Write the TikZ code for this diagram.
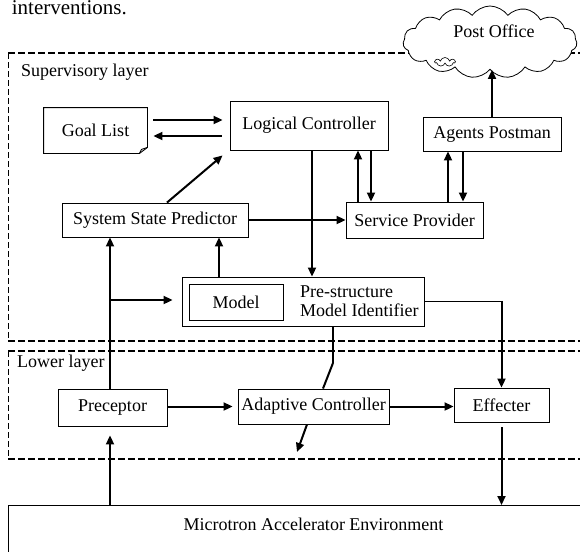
\documentclass[tikz,border=0pt]{standalone}
\usepackage{fontspec}
\setmainfont{Liberation Serif}
\usetikzlibrary{arrows.meta,shapes.symbols}
\begin{document}
\begin{tikzpicture}[x=1pt,y=-1pt,
  box/.style={draw, line width=0.9pt, inner sep=0pt, font=\fontsize{18}{21}\selectfont},
  lbl/.style={inner sep=0pt, font=\fontsize{18}{19}\selectfont},
  arr/.style={line width=2pt, -{Triangle[length=9pt,width=8pt]}},
  wire/.style={line width=2pt},
  thinwire/.style={line width=1.3pt},
  hdash/.style={line width=1.8pt, dash pattern=on 7pt off 3pt},
  vdash/.style={line width=0.9pt, dash pattern=on 6pt off 3pt}
]
\useasboundingbox (0,0) rectangle (580,551);
\clip (0,0) rectangle (580,551);

% end of the preceding text line
\node[anchor=base east, inner sep=0pt, font=\fontsize{21}{24}\selectfont] (intro) at (127,15) {interventions.};

% layer frames
\draw[hdash] (8,53) -- (590,53);
\draw[vdash] (8,53) -- (8,341);
\draw[hdash] (8,341) -- (590,341);
\draw[hdash] (8,351) -- (590,351);
\draw[vdash] (8,351) -- (8,459);
\draw[hdash] (8,459) -- (590,459);
\node[lbl, anchor=west] (suplbl) at (21,72) {Supervisory layer};
\node[lbl, anchor=west] (lowlbl) at (17,363) {Lower layer};

% post office cloud
\node[cloud, draw, fill=white, line width=0.8pt, cloud puffs=15, cloud puff arc=110,
      aspect=2.4, minimum width=174pt, minimum height=72pt, inner sep=0pt] (po) at (490,42) {};
\node[cloud, draw, line width=0.6pt, cloud puffs=7, aspect=2,
      minimum width=20pt, minimum height=9pt, inner sep=0pt] (doodle) at (445,62) {};
\node[lbl] (potext) at (494,31) {Post Office};

% supervisory blocks
\node[box, draw=none, minimum width=103pt, minimum height=45pt] (goal) at (95.5,130.5) {Goal List\hspace{10pt}};
\draw[line width=0.9pt] (goal.north west) -- (goal.north east) -- ([yshift=6pt]goal.south east)
  -- ([xshift=-8pt]goal.south east) -- (goal.south west) -- cycle;
\draw[line width=0.9pt] ([xshift=-8pt]goal.south east) -- ([xshift=-6pt,yshift=4pt]goal.south east)
  -- ([yshift=6pt]goal.south east);
\node[box, minimum width=158pt, minimum height=49pt] (lc) at (309,125.5) {Logical Controller};
\node[box, minimum width=138pt, minimum height=34pt] (ap) at (492,134) {Agents Postman};
\node[box, minimum width=186pt, minimum height=34pt] (ssp) at (155,220) {System State Predictor};
\node[box, minimum width=137pt, minimum height=36pt] (sp) at (414.5,220) {Service Provider};
\node[box, minimum width=242pt, minimum height=49pt] (pmi) at (303,301.5) {};
\node[box, minimum width=94pt, minimum height=36pt] (model) at (236,302) {Model};
\node[lbl, anchor=west, align=left] (pmitext) at (300,301) {Pre-structure\\Model Identifier};

% lower blocks
\node[box, minimum width=109pt, minimum height=37pt] (prec) at (112.5,407.5) {Preceptor};
\node[box, minimum width=151pt, minimum height=35pt] (ac) at (313.5,406.5) {Adaptive Controller};
\node[box, minimum width=95pt, minimum height=34pt] (eff) at (501.5,405) {Effecter};

% environment
\node[box, anchor=north west, minimum width=611pt, minimum height=60pt] (env) at (8,505) {};
\node[lbl] (envtext) at (313.5,524) {Microtron Accelerator Environment};

% connectors
\draw[arr, shorten <=6pt, shorten >=7pt] (goal.east |- 0,120) -- (lc.west |- 0,120);
\draw[arr, shorten <=8pt, shorten >=6pt] (lc.west |- 0,136) -- (goal.east |- 0,136);
\draw[arr] ([xshift=12pt]ssp.north) -- ([xshift=-7pt,yshift=-5pt]lc.south west);
\draw[arr] (ssp.east) -- (sp.west);
\draw[arr] (lc.south -| 312,0) -- (pmi.north -| 312,0);
\draw[arr] (sp.north -| 358,0) -- (lc.south -| 358,0);
\draw[arr] (lc.south -| 371,0) -- (sp.north -| 371,0);
\draw[arr] (sp.north -| 448,0) -- (ap.south -| 448,0);
\draw[arr] (ap.south -| 463,0) -- (sp.north -| 463,0);
\draw[arr] (ap.north) -- (ap.north |- po.south);
\draw[arr] (pmi.north -| 219,0) -- (ssp.south -| 219,0);
\draw[arr] (prec.north -| 110,0) -- (ssp.south -| 110,0);
\coordinate (br) at (110,300);
\draw[arr, shorten >=9pt] (br) -- (pmi.west |- br);
\coordinate (corner) at (eff.north |- pmi.east);
\draw[thinwire] (pmi.east) -- (corner);
\draw[arr] ([yshift=0.6pt]corner) -- (eff.north);
\coordinate (bend) at (333,363);
\draw[thinwire] (pmi.south -| bend) -- (bend);
\draw[wire] (bend) -- (ac.north -| 323,0);
\coordinate (acout) at (297,452);
\draw[arr] (ac.south -| 307,0) -- (acout);
\draw[arr, shorten >=5pt] (prec.east |- ac.west) -- (ac.west);
\draw[arr] (ac.east) -- (ac.east -| eff.west);
\draw[arr, shorten <=5pt] (eff.south) -- (eff.south |- env.north);
\draw[arr, shorten >=9pt] (env.north -| 110,0) -- (prec.south -| 110,0);
\end{tikzpicture}
\end{document}
